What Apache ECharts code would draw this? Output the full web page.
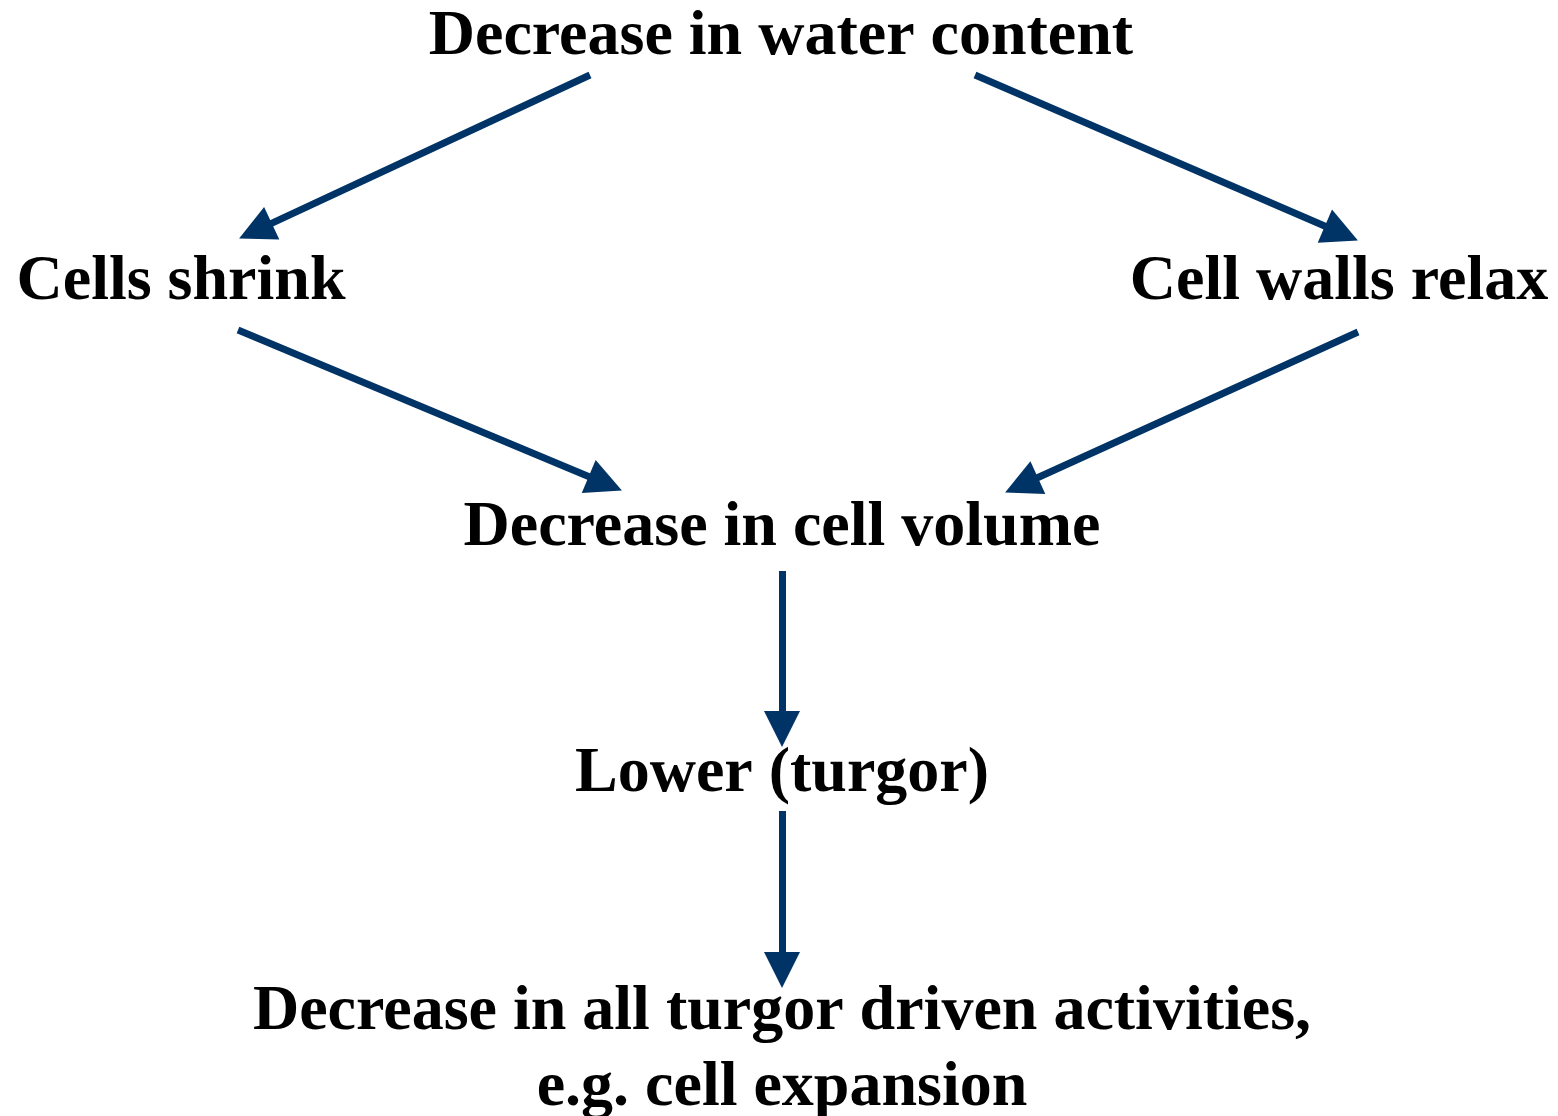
<!DOCTYPE html>
<html>
<head>
<meta charset="utf-8">
<script src="https://cdn.jsdelivr.net/npm/echarts@6/dist/echarts.min.js"></script>
<style>
  html, body { margin: 0; padding: 0; background: #fff; }
  #chart { width: 1558px; height: 1116px; }
</style>
</head>
<body>
<div id="chart"></div>
<script>
// boxes of the flow (text + centre in page units)
var nodeNames = [
  'Decrease in water content',
  'Cells shrink',
  'Cell walls relax',
  'Decrease in cell volume',
  'Lower (turgor)',
  'Decrease in all turgor driven activities,\ne.g. cell expansion'
];
var nodeX = [781, 181, 1339, 782, 782, 782];
var nodeY = [37, 282, 282, 528, 774, 1050];

// arrows: start point -> tip
var arrowFrom = [[590, 75], [975, 75], [238, 330], [1358, 332], [782, 571], [782, 811]];
var arrowTo = [[240, 238], [1357, 240], [621, 490], [1006, 492], [782, 746], [782, 987]];

var chart = echarts.init(document.getElementById('chart'));
var navy = '#003366';
var headSize = 34;

var textData = nodeNames.map(function (n, i) {
  return { name: n, value: [nodeX[i], nodeY[i]] };
});
// triangle symbol sits centred on the end point, so pull the end back half a head
var lineData = arrowFrom.map(function (p, i) {
  var t = arrowTo[i];
  var dx = t[0] - p[0], dy = t[1] - p[1];
  var len = Math.sqrt(dx * dx + dy * dy);
  var k = (len - headSize / 2) / len;
  return { coords: [p, [p[0] + dx * k, p[1] + dy * k]] };
});

var option = {
  backgroundColor: '#ffffff',
  animation: false,
  grid: { left: 0, right: 0, top: 0, bottom: 0 },
  xAxis: { type: 'value', min: 0, max: 1558, show: false },
  yAxis: { type: 'value', min: 0, max: 1116, inverse: true, show: false },
  series: [{
    type: 'lines',
    coordinateSystem: 'cartesian2d',
    data: lineData,
    symbol: ['none', 'triangle'],
    symbolSize: [0, headSize + 2],
    lineStyle: { color: navy, width: 7, opacity: 1, curveness: 0 },
    itemStyle: { color: navy }
  }, {
    type: 'scatter',
    data: textData,
    symbolSize: 0,
    itemStyle: { opacity: 1 },
    label: {
      show: true,
      position: 'inside',
      formatter: function (p) { return p.name; },
      fontFamily: 'Liberation Serif',
      fontWeight: 'bold',
      fontSize: 64,
      lineHeight: 76,
      color: '#000',
      opacity: 1,
      align: 'center'
    }
  }]
};
chart.setOption(option);
</script>
</body>
</html>
